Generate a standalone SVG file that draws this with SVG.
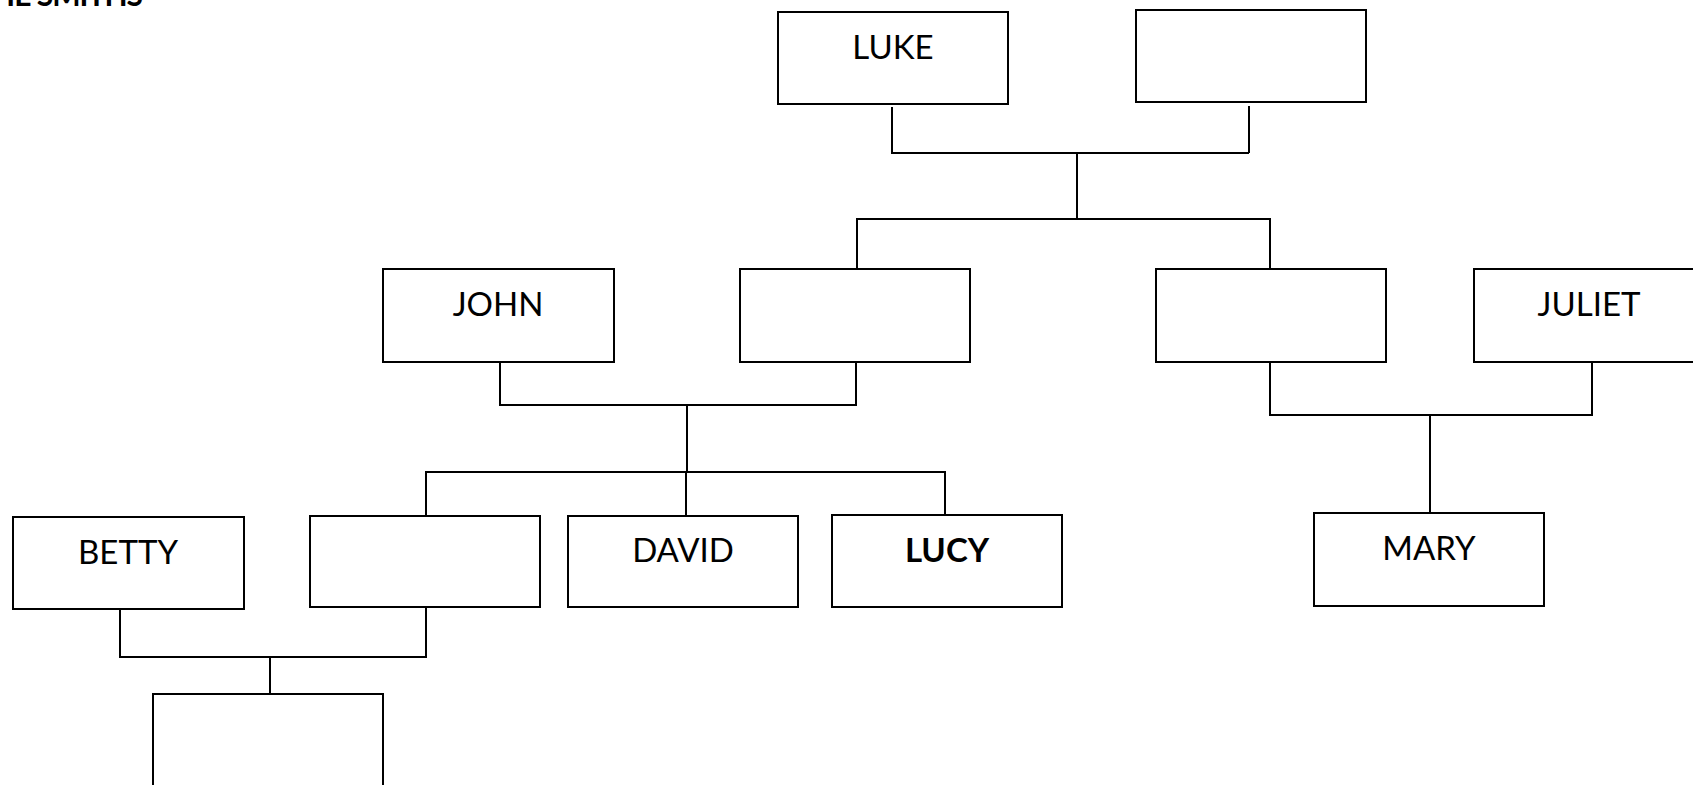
<svg xmlns="http://www.w3.org/2000/svg" width="1693" height="785" viewBox="0 0 1693 785">
<style>
.box{fill:#fff;stroke:#000;stroke-width:2}
.lbl{font-family:Lato,"Open Sans","Liberation Sans",sans-serif;font-size:33px;fill:#000;text-anchor:middle}
.b{font-weight:bold}
.con{fill:none;stroke:#000;stroke-width:2}
</style>
<rect x="0" y="0" width="1693" height="785" fill="#fff"/>
<text id="title" x="142" y="6" class="lbl b" style="text-anchor:end;font-size:30px;letter-spacing:-1px">THE SMITHS</text>
<g id="connectors">
<path class="con" d="M892 107V153H1249M1249 106V153M1077 153V219M857 269V219H1270V269"/>
<path class="con" d="M500 359V405H856V362M687 405V472M426 516V472H945V515M686 472V516"/>
<path class="con" d="M1270 362V415H1592V363M1430 415V513"/>
<path class="con" d="M120 609V657H426V607M270 657V694"/>
</g>
<g id="luke"><rect class="box" x="778" y="12" width="230" height="92"/><text class="lbl" x="893" y="59">LUKE</text></g>
<g id="luke-spouse"><rect class="box" x="1136" y="10" width="230" height="92"/></g>
<g id="john"><rect class="box" x="383" y="269" width="231" height="93"/><text class="lbl" x="498" y="316">JOHN</text></g>
<g id="child-a"><rect class="box" x="740" y="269" width="230" height="93"/></g>
<g id="child-b"><rect class="box" x="1156" y="269" width="230" height="93"/></g>
<g id="juliet"><rect class="box" x="1474" y="269" width="230" height="93"/><text class="lbl" x="1589" y="316">JULIET</text></g>
<g id="betty"><rect class="box" x="13" y="517" width="231" height="92"/><text class="lbl" x="128" y="564">BETTY</text></g>
<g id="grandchild-a"><rect class="box" x="310" y="516" width="230" height="91"/></g>
<g id="david"><rect class="box" x="568" y="516" width="230" height="91"/><text class="lbl" x="683" y="562">DAVID</text></g>
<g id="lucy"><rect class="box" x="832" y="515" width="230" height="92"/><text class="lbl b" x="947" y="562">LUCY</text></g>
<g id="mary"><rect class="box" x="1314" y="513" width="230" height="93"/><text class="lbl" x="1429" y="560">MARY</text></g>
<g id="great-grandchild"><rect class="box" x="153" y="694" width="230" height="120"/></g>
</svg>
